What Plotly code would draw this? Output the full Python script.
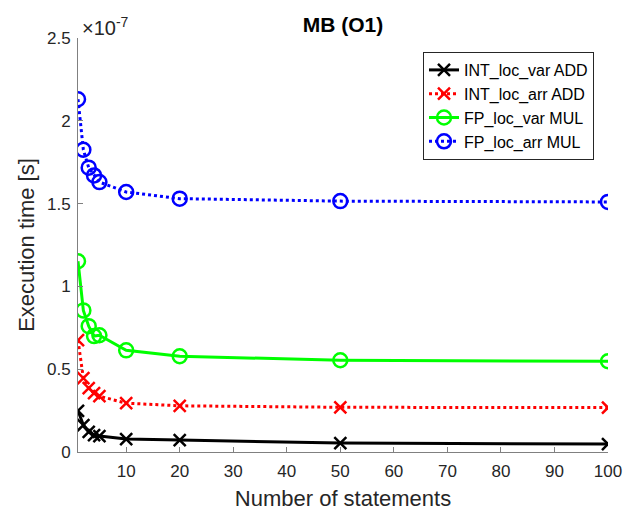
import plotly.graph_objects as go

statements = [1, 2, 3, 4, 5, 10, 20, 50, 100]
scale = 1e-7
int_loc_var_add = [0.249, 0.163, 0.122, 0.102, 0.096, 0.078, 0.072, 0.054, 0.048]
int_loc_arr_add = [0.675, 0.446, 0.385, 0.355, 0.337, 0.295, 0.279, 0.270, 0.268]
fp_loc_var_mul = [1.152, 0.855, 0.760, 0.700, 0.705, 0.614, 0.578, 0.554, 0.548]
fp_loc_arr_mul = [2.13, 1.825, 1.717, 1.67, 1.63, 1.57, 1.53, 1.515, 1.51]

y_ticks = [0, 0.5, 1, 1.5, 2, 2.5]
y_tick_labels = ["0", "0.5", "1", "1.5", "2", "2.5"]
x_ticks = [10, 20, 30, 40, 50, 60, 70, 80, 90, 100]

series = [
    ("INT_loc_var ADD", int_loc_var_add, "#000000", "solid", "x-thin-open", 12),
    ("INT_loc_arr ADD", int_loc_arr_add, "#FF0000", "dot", "x-thin-open", 12),
    ("FP_loc_var MUL", fp_loc_var_mul, "#00FF00", "solid", "circle-open", 14),
    ("FP_loc_arr MUL", fp_loc_arr_mul, "#0000FF", "dot", "circle-open", 14),
]

fig = go.Figure()
for name, vals, color, dash, sym, size in series:
    fig.add_trace(go.Scatter(
        x=statements, y=[v * scale for v in vals], name=name,
        mode="lines+markers",
        line=dict(color=color, width=3, dash=dash),
        marker=dict(symbol=sym, size=size, color=color, line=dict(color=color, width=2.5)),
    ))

font_family = "Liberation Sans, Arial, sans-serif"
axis_common = dict(
    showline=True, linecolor="#808080", linewidth=1,
    ticks="inside", ticklen=5, tickcolor="#808080",
    showgrid=False, zeroline=False, mirror=False, automargin=False,
    tickfont=dict(family=font_family, size=17, color="#262626"),
)

fig.update_layout(
    width=636, height=516,
    margin=dict(l=78, r=28, t=38, b=64),
    paper_bgcolor="white", plot_bgcolor="white",
    title=dict(text="<b>MB (O1)</b>", x=343 / 636, xanchor="center",
               y=1 - 25 / 516, yanchor="middle",
               font=dict(family=font_family, size=21, color="#000000")),
    xaxis=dict(range=[1, 100], tickvals=x_ticks, ticklabelstandoff=4,
               title=dict(text="Number of statements", standoff=10,
                          font=dict(family=font_family, size=22, color="#262626")),
               **axis_common),
    yaxis=dict(range=[0, 2.5 * scale], tickvals=[t * scale for t in y_ticks],
               ticktext=y_tick_labels, ticklabelstandoff=3,
               title=dict(text="Execution time [s]", standoff=6,
                          font=dict(family=font_family, size=22, color="#262626")),
               **axis_common),
    legend=dict(x=(594 - 78) / 530, xanchor="right", xref="paper",
                y=(452 - 52) / (452 - 38), yanchor="top", yref="paper",
                bordercolor="#262626", borderwidth=1, bgcolor="white",
                font=dict(family=font_family, size=16, color="#000000"),
                tracegroupgap=0),
    showlegend=True,
)

fig.add_annotation(
    text="×10<sup>-7</sup>", xref="paper", yref="paper", x=2 / 530, y=1,
    xanchor="left", yanchor="bottom", showarrow=False, yshift=-3,
    font=dict(family=font_family, size=20, color="#262626"),
)

fig.write_html("out.html")
